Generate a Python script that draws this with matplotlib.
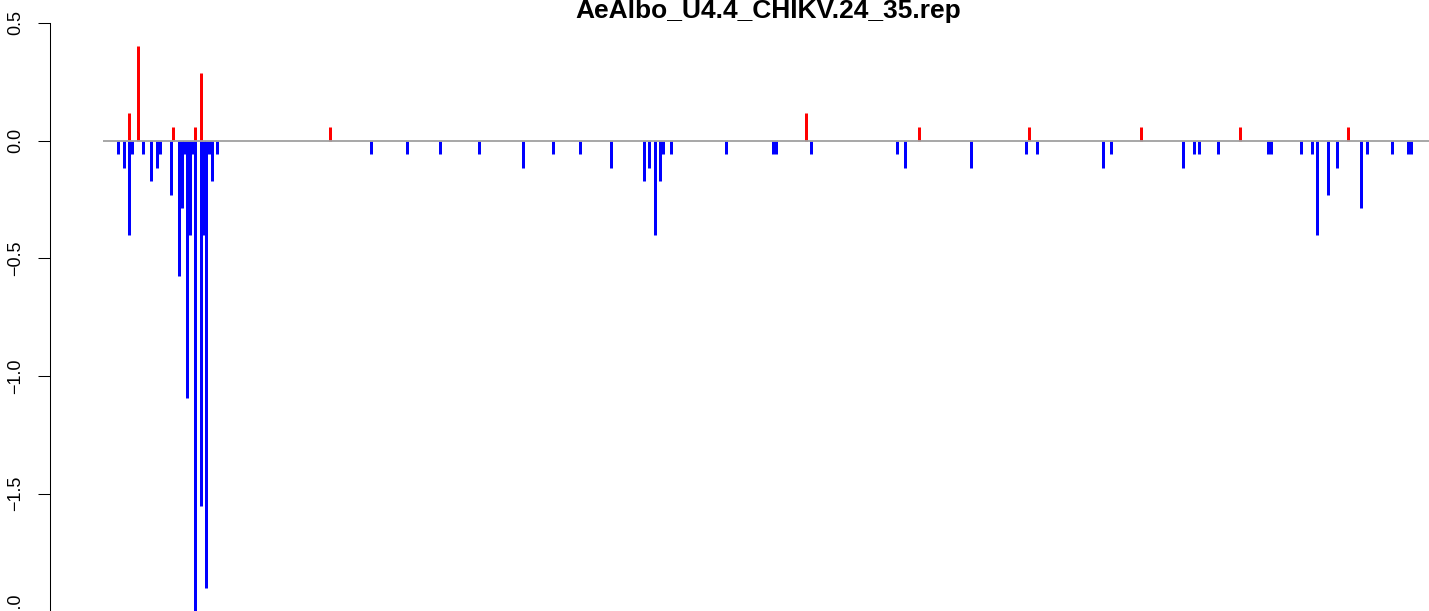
import matplotlib
matplotlib.use("Agg")
import matplotlib.pyplot as plt

plt.rcParams["font.family"] = ["Liberation Sans", "DejaVu Sans"]

titre = "AeAlbo_U4.4_CHIKV.24_35.rep"

# positions (index of window) and values of the negative (blue) series
pos_bleu = [0, 2, 4, 5, 9, 12, 14, 15, 19, 22, 23, 24, 25, 26, 27, 28, 30, 31,
            32, 33, 34, 36, 92, 105, 117, 131, 147, 158, 168, 179, 191, 193,
            195, 197, 198, 201, 221, 238, 239, 252, 283, 286, 310, 330, 334,
            358, 361, 387, 391, 393, 400, 418, 419, 430, 434, 436, 440, 443,
            452, 454, 463, 469, 470]
val_bleu = [-0.058, -0.115, -0.403, -0.058, -0.058, -0.173, -0.115, -0.058,
            -0.23, -0.576, -0.288, -0.058, -1.094, -0.403, -0.058, -2.05,
            -1.554, -0.403, -1.9, -0.058, -0.173, -0.058, -0.058, -0.058,
            -0.058, -0.058, -0.115, -0.058, -0.058, -0.115, -0.173, -0.115,
            -0.403, -0.173, -0.058, -0.058, -0.058, -0.058, -0.058, -0.058,
            -0.058, -0.115, -0.115, -0.058, -0.058, -0.115, -0.058, -0.115,
            -0.058, -0.058, -0.058, -0.058, -0.058, -0.058, -0.058, -0.403,
            -0.23, -0.115, -0.288, -0.058, -0.058, -0.058, -0.058]

# positive (red) series
pos_rouge = [4, 7, 20, 28, 30, 77, 250, 291, 331, 372, 408, 447]
val_rouge = [0.115, 0.403, 0.058, 0.058, 0.288, 0.058, 0.115, 0.058, 0.058,
             0.058, 0.058, 0.058]

yticks = [-2.0, -1.5, -1.0, -0.5, 0.0, 0.5]

W, H = 1429, 611
Y0, PX = 140.5, 235.5  # pixel row of zero, pixels per unit
fig = plt.figure(figsize=(W / 100, H / 100), dpi=100)
# axes: left edge on the y axis line, bottom runs a bit below the picture
ax = fig.add_axes([50 / W, 1 - 640 / H, 1379 / W, 640 / H])
ax.set_xlim(-24.84, 476.6)
ax.set_ylim(-(640 - Y0) / PX, Y0 / PX)

ax.vlines(pos_bleu, 0, val_bleu, colors="#0000ff", linewidth=2.16,
          capstyle="butt")
ax.vlines(pos_rouge, 0, val_rouge, colors="#ff0000", linewidth=2.16,
          capstyle="butt")
ax.hlines(0, min(pos_bleu) - 5.5, 480, colors="#a0a0a0", linewidth=1.3,
          zorder=3, clip_on=False)

for cote in ["top", "right", "bottom"]:
    ax.spines[cote].set_visible(False)
ax.spines["left"].set_bounds(yticks[0], yticks[-1])
ax.spines["left"].set_linewidth(0.75)
ax.set_xticks([])
ax.set_yticks(yticks)
ax.set_yticklabels([f"{v:.1f}".replace("-", "\u2212") for v in yticks])
ax.tick_params(axis="y", length=8.6, width=0.75, pad=10, labelsize=13,
               labelrotation=90)
for lab in ax.get_yticklabels():
    lab.set_verticalalignment("center")

fig.text(768 / W, 1 - 18 / H, titre, ha="center", va="baseline",
         fontsize=19, fontweight="bold")

fig.savefig("out.png", dpi=100)
